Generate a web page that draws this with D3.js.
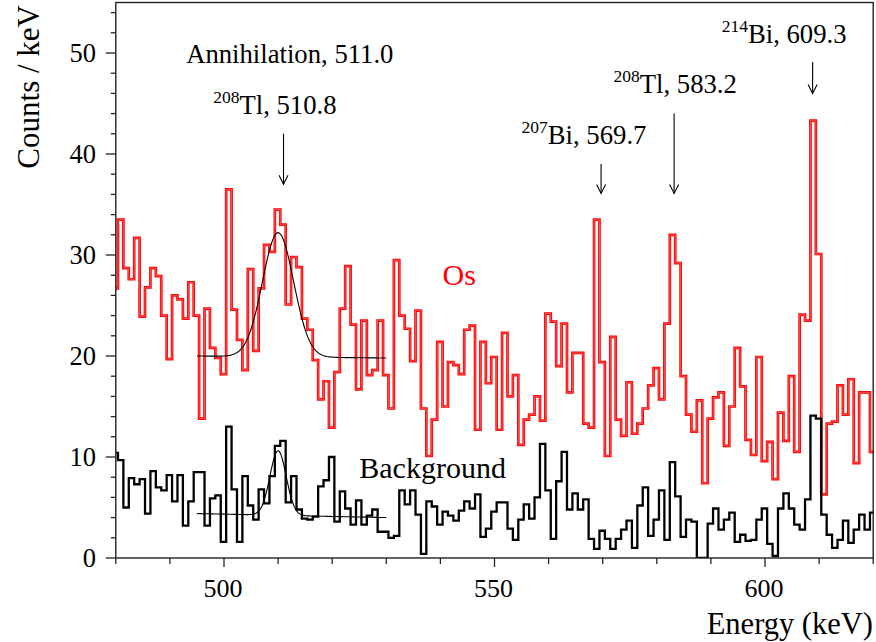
<!DOCTYPE html>
<html><head><meta charset="utf-8">
<script src="https://cdn.jsdelivr.net/npm/d3@7"></script>
<style>
body{margin:0;background:#fff}
svg{display:block}
text{font-family:"Liberation Serif","Times New Roman",Times,serif}
</style>
</head><body>
<svg id="c" width="876" height="642"></svg>
<script>
// ---------- data ----------
const binStart = 479.4;   // left edge of the first (clipped) 1 keV bin
const binWidth = 1;
const osCounts = [
26.7,33.5,28.7,27.6,31.7,23.9,26.8,28.7,27.9,24.0,
19.7,26.0,25.6,23.7,27.3,24.0,13.8,24.7,20.8,19.8,
18.2,36.5,24.6,21.6,18.6,28.6,20.5,26.7,31.0,30.3,
34.5,33.0,25.1,29.8,28.8,23.7,22.6,19.6,15.7,17.5,
12.9,18.4,24.7,28.9,23.1,16.7,23.5,18.1,18.6,23.5,
18.1,14.8,29.5,24.0,22.7,19.5,24.5,14.8,10.1,13.7,
21.4,15.0,19.4,19.1,18.2,22.6,23.0,12.7,21.4,17.3,
19.9,12.7,22.3,16.0,18.1,11.2,13.7,14.2,16.0,13.6,
24.2,23.4,19.0,23.2,16.4,20.3,20.3,13.3,12.9,33.5,
19.4,10.1,21.9,13.7,12.1,17.4,12.3,13.3,14.8,17.1,
18.8,15.7,23.2,32.0,29.2,18.0,14.2,12.5,15.6,7.4,
13.8,15.9,16.4,11.1,15.0,20.8,17.0,11.7,10.2,19.9,
9.6,11.5,7.8,14.4,11.6,18.0,10.5,24.1,23.5,43.3,
30.1,6.3,13.3,13.5,17.1,14.2,17.7,9.4,16.4,16.4,10.5];
const bgCounts = [
10.4,
9.7,5.0,7.9,7.3,7.8,4.4,8.6,7.0,6.7,
8.2,5.6,8.2,3.2,5.6,8.5,8.5,3.2,5.9,6.2,
1.6,13.0,6.8,1.6,8.1,5.2,3.8,6.8,5.4,8.1,
11.1,11.6,5.5,8.1,4.8,3.9,3.8,4.1,7.1,7.7,
10.0,3.6,6.6,4.9,3.3,5.7,3.3,4.2,4.8,2.6,
2.6,2.0,2.2,6.7,5.3,6.7,4.3,0.4,5.6,5.1,
3.3,4.6,4.2,3.7,4.7,5.6,4.9,6.3,2.1,2.9,
4.6,5.5,5.5,2.9,1.8,3.8,5.3,3.9,6.0,11.3,
6.7,1.9,7.6,10.5,4.8,6.4,4.8,5.8,1.9,0.9,
2.7,1.9,0.9,1.9,2.8,3.7,1.0,5.2,7.0,2.2,
3.8,6.7,1.8,9.5,6.1,2.1,3.8,3.6,0.0,0.0,
3.4,4.9,2.8,3.8,4.5,1.6,2.3,1.7,1.8,3.8,
4.9,1.4,0.2,4.9,6.4,4.9,3.3,2.8,5.8,14.1,
13.8,4.3,2.3,1.0,1.8,3.7,1.5,2.8,4.3,2.8,4.5];
const xTickLabels = [500,550,600];
const yTickLabels = [0,10,20,30,40,50];
// fitted gaussian + linear background (parameters)
const osFit = {from:495,to:530,base0:20.0,base1:19.8,amp:12.3,mu:510.0,sigma:2.88};
const bgFit = {from:495,to:530,base0:4.4,base1:4.0,amp:6.4,mu:510.0,sigma:1.5};
// peak annotations: label anchor (energy, counts), arrow energy and span
const peakNames  = ["", "208", "207", "208", "214"];
const peakTexts  = ["Annihilation, 511.0", "Tl, 510.8", "Bi, 569.7", "Tl, 583.2", "Bi, 609.3"];
const peakLabelE = [493, 498, 555, 572, 592];
const peakLabelC = [49, 44, 41, 46, 51];
const arrowE     = [511.0, 569.7, 583.2, 608.8];
const arrowTop   = [42, 39, 44, 49.1];
const arrowBot   = [37, 36.1, 36.1, 46];

// ---------- layout ----------
const L = 115.8, R = 873.2, T = 2.5, B = 558;
const svg = d3.select("#c");
const x = d3.scaleLinear().domain([480, 620]).range([L, R]);
const y = d3.scaleLinear().domain([0, 55]).range([B, T]);

svg.append("defs").append("clipPath").attr("id","plot")
  .append("rect").attr("x",L).attr("y",T).attr("width",R-L).attr("height",B-T);

function histPoints(arr){
  const p = arr.map((v,i)=>[binStart+i*binWidth, v]);
  p.push([binStart+arr.length*binWidth, arr[arr.length-1]]);
  return p;
}
const step = d3.line().x(d=>x(d[0])).y(d=>y(d[1])).curve(d3.curveStepAfter);
const g = svg.append("g").attr("clip-path","url(#plot)");

// Os (red) histogram: red stroke with slightly lighter core
g.append("path").attr("d", step(histPoints(osCounts)))
  .attr("fill","none").attr("stroke","#ff0000").attr("stroke-width",2.7);
g.append("path").attr("d", step(histPoints(osCounts)))
  .attr("fill","none").attr("stroke","#ff8080").attr("stroke-width",0.6);
// background (black) histogram
g.append("path").attr("d", step(histPoints(bgCounts)))
  .attr("fill","none").attr("stroke","#000").attr("stroke-width",2.3);

// fit curves
function fitPts(f){
  const pts=[]; const n=140;
  for(let i=0;i<=n;i++){
    const e=f.from+(f.to-f.from)*i/n;
    const base=f.base0+(f.base1-f.base0)*(e-f.from)/(f.to-f.from);
    pts.push([e, base+f.amp*Math.exp(-0.5*Math.pow((e-f.mu)/f.sigma,2))]);
  }
  return pts;
}
const smooth = d3.line().x(d=>x(d[0])).y(d=>y(d[1]));
[osFit,bgFit].forEach(f=>{
  g.append("path").attr("d", smooth(fitPts(f)))
    .attr("fill","none").attr("stroke","#000").attr("stroke-width",1.1);
});

// frame
svg.append("rect").attr("x",L).attr("y",T).attr("width",R-L).attr("height",B-T)
  .attr("fill","none").attr("stroke","#222").attr("stroke-width",1.4);

// ticks (outside)
const ax = svg.append("g").attr("stroke","#222").attr("stroke-width",1.3);
d3.range(480, 621, 10).forEach(v=>{
  const major = v%50===0;
  ax.append("line").attr("x1",x(v)).attr("x2",x(v)).attr("y1",B).attr("y2",B+(major?9:6));
});
d3.range(0, 55.01, 2).forEach(v=>{
  const major = v%10===0;
  ax.append("line").attr("y1",y(v)).attr("y2",y(v)).attr("x1",L).attr("x2",L-(major?10:5));
});
svg.selectAll(".xl").data(xTickLabels).enter().append("text")
  .attr("x",d=>x(d)-1).attr("y",597).attr("text-anchor","middle")
  .attr("font-size",26).text(d=>d);
svg.selectAll(".yl").data(yTickLabels).enter().append("text")
  .attr("x",96).attr("y",d=>y(d)+9).attr("text-anchor","end")
  .attr("font-size",26.5).text(d=>d);

// axis titles
svg.append("text").attr("transform","translate(39,5) rotate(-90)")
  .attr("text-anchor","end").attr("font-size",31).text("Counts / keV");
svg.append("text").attr("x",873).attr("y",634).attr("text-anchor","end")
  .attr("font-size",30.5).text("Energy (keV)");

// series labels
svg.append("text").attr("x",x(540.4)).attr("y",y(27)).attr("font-size",30)
  .attr("fill","#ff0000").text("Os");
svg.append("text").attr("x",x(525)).attr("y",y(7.9)).attr("font-size",30)
  .attr("fill","#000").text("Background");

// peak labels
peakTexts.forEach((t,i)=>{
  const tx = svg.append("text").attr("x",x(peakLabelE[i])).attr("y",y(peakLabelC[i]))
    .attr("font-size",26.7);
  if(peakNames[i]){
    tx.append("tspan").attr("font-size",17.5).attr("dy",-11).text(peakNames[i]);
    tx.append("tspan").attr("dy",11).text(t);
  } else tx.text(t);
});
// arrows
const ag = svg.append("g").attr("stroke","#000").attr("stroke-width",1.1).attr("fill","none");
arrowE.forEach((e,i)=>{
  const ax0=x(e), y0=y(arrowTop[i]), y1=y(arrowBot[i]);
  ag.append("line").attr("x1",ax0).attr("x2",ax0).attr("y1",y0).attr("y2",y1);
  ag.append("path").attr("d",`M${ax0-4.5},${y1-9}L${ax0},${y1}L${ax0+4.5},${y1-9}`);
});
</script>
</body></html>
